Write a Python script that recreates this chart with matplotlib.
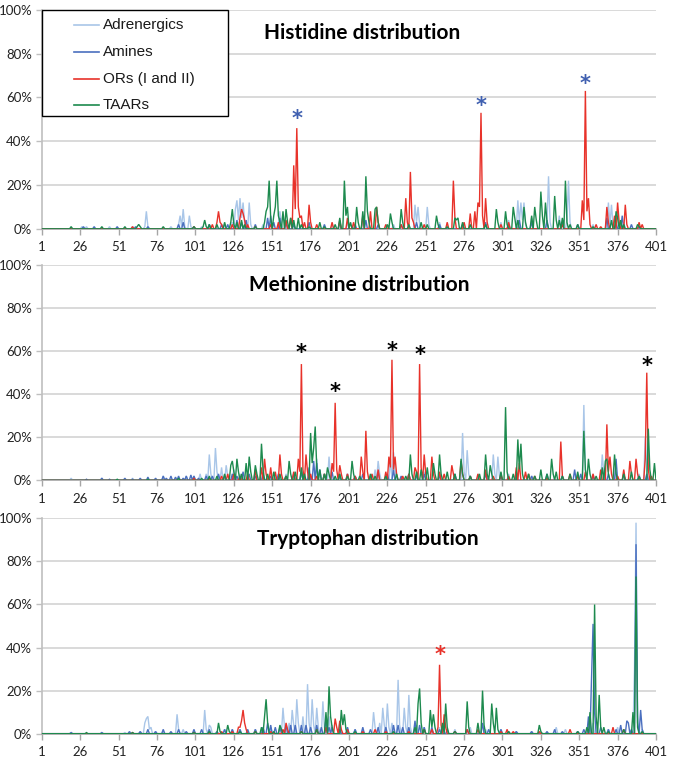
import numpy as np
import matplotlib
matplotlib.use("Agg")
import matplotlib.pyplot as plt
from matplotlib.ticker import FuncFormatter
from matplotlib.patches import Rectangle
from matplotlib.lines import Line2D

N_POS = 401
series_names = ["Adrenergics", "Amines", "ORs (I and II)", "TAARs"]
series_colors = ["#a9c6e8", "#4a6fbf", "#e8322a", "#1d8a4e"]
x_ticks = list(range(1, 402, 25))
y_ticks = [0, 20, 40, 60, 80, 100]
titles = ["Histidine distribution", "Methionine distribution", "Tryptophan distribution"]

# sparse (position, percent) readings; unlisted positions are ~0
HIS_ADR = [(27,1),(30,1),(45,1),(60,1),(68,1),(69,8),(70,1),(85,1),(90,2),(91,6),(92,1),(93,9),(94,1),(97,6),(98,1),(105,1),(110,2),(120,2),(125,3),(127,9),(128,13),(129,4),(130,14),(131,5),(132,12),(133,3),(136,12),(137,2),(145,2),(150,3),(156,8),(157,2),(165,2),(190,2),(200,3),(210,3),(230,2),(244,11),(245,3),(246,10),(247,2),(252,10),(253,2),(260,3),(300,3),(305,4),(311,13),(312,3),(313,12),(314,4),(315,12),(316,2),(320,5),(330,3),(331,24),(332,3),(338,6),(343,4),(344,22),(345,3),(360,2),(370,12),(371,2),(372,11),(373,2),(380,3)]
HIS_AMI = [(28,1),(35,1),(50,1),(62,1),(70,1),(90,2),(93,3),(100,1),(110,2),(118,2),(122,2),(128,4),(131,3),(134,4),(140,2),(148,5),(150,6),(152,3),(156,5),(160,3),(165,2),(175,3),(185,2),(195,3),(205,2),(212,4),(220,2),(235,2),(245,3),(260,2),(275,2),(290,3),(305,2),(312,4),(320,3),(330,4),(340,3),(350,2),(369,5),(375,3),(379,6),(385,2),(390,1)]
HIS_OR = [(60,1),(100,1),(112,2),(115,3),(116,8),(117,3),(118,2),(125,2),(130,5),(131,9),(132,7),(133,4),(135,2),(140,1),(150,2),(155,3),(160,4),(163,5),(165,29),(166,9),(167,46),(168,10),(169,5),(170,6),(172,3),(175,11),(176,3),(180,2),(190,3),(195,4),(200,5),(204,3),(210,6),(215,8),(219,10),(220,3),(225,2),(235,2),(238,14),(239,3),(241,26),(242,5),(243,3),(250,2),(265,3),(269,22),(270,5),(276,3),(280,7),(283,8),(285,12),(286,10),(287,53),(288,6),(290,14),(291,3),(300,2),(305,3),(340,2),(353,13),(354,4),(355,63),(356,8),(357,14),(358,2),(362,2),(365,1),(369,10),(370,3),(374,6),(376,12),(377,3),(381,11),(382,2),(390,3),(392,2)]
HIS_TAAR = [(20,1),(40,1),(55,1),(63,1),(64,2),(65,1),(80,1),(100,1),(106,1),(107,4),(108,1),(110,2),(115,2),(120,3),(124,3),(125,9),(126,2),(128,3),(131,4),(133,2),(140,1),(146,3),(147,8),(148,10),(149,22),(150,5),(152,6),(153,10),(154,22),(155,6),(156,3),(158,8),(160,9),(161,3),(163,5),(165,4),(168,5),(170,2),(175,1),(182,3),(185,1),(192,2),(195,5),(198,22),(199,6),(200,10),(202,3),(206,10),(207,3),(210,8),(212,24),(213,8),(214,3),(218,9),(219,10),(220,3),(226,2),(228,7),(229,3),(235,9),(236,3),(240,2),(248,3),(252,2),(258,6),(259,2),(265,1),(270,5),(271,4),(272,5),(275,3),(280,2),(290,2),(297,9),(298,3),(303,8),(304,2),(308,10),(309,5),(311,4),(315,10),(316,3),(320,6),(322,10),(323,4),(326,17),(327,6),(329,12),(330,3),(335,15),(336,4),(338,4),(340,5),(342,22),(343,3),(345,2),(350,2),(360,1),(372,4),(375,8),(376,5),(378,4),(380,2),(389,2),(390,1)]

MET_ADR = [(20,1),(40,1),(60,1),(80,2),(95,2),(100,2),(104,3),(108,3),(110,12),(111,3),(114,15),(115,4),(118,6),(121,7),(122,2),(126,5),(130,3),(140,4),(145,3),(160,3),(170,4),(180,10),(188,11),(189,2),(195,3),(205,2),(218,5),(220,9),(221,3),(228,10),(230,13),(231,5),(240,3),(250,4),(260,3),(270,2),(275,22),(276,4),(278,14),(279,3),(285,2),(295,12),(296,3),(298,11),(299,2),(305,3),(320,2),(340,2),(350,3),(354,35),(355,5),(360,3),(366,12),(367,3),(375,4),(390,3),(394,20),(395,4)]
MET_AMI = [(30,0.5),(40,1),(45,0.5),(55,1),(60,0.5),(65,1),(70,1.5),(75,1),(80,2),(82,1),(85,2),(88,1.5),(90,2),(93,1),(95,2),(98,2.5),(100,2),(103,1),(108,2),(112,2),(116,3),(120,2),(125,3),(128,2),(132,4),(136,3),(140,2),(145,3),(150,2),(155,3),(160,2),(165,3),(170,4),(175,6),(178,9),(180,8),(182,5),(185,3),(190,4),(195,2),(200,3),(205,2),(210,3),(215,2),(220,4),(226,3),(230,5),(235,2),(240,3),(245,2),(250,3),(260,2),(270,3),(280,2),(290,3),(300,2),(310,3),(320,2),(330,3),(340,2),(348,5),(352,3),(360,2),(370,3),(375,10),(380,3),(390,2),(395,3)]
MET_OR = [(100,1),(110,1),(118,2),(122,3),(126,3),(130,2),(135,3),(140,5),(144,6),(146,10),(147,3),(150,6),(153,4),(156,12),(157,3),(160,2),(165,4),(168,10),(169,4),(170,54),(171,5),(173,12),(174,4),(176,3),(180,2),(185,3),(190,8),(191,4),(192,36),(193,5),(195,7),(196,3),(200,3),(205,2),(209,11),(210,4),(212,23),(213,4),(216,3),(220,5),(225,4),(227,11),(228,6),(229,56),(230,5),(231,11),(232,3),(236,2),(240,3),(244,6),(245,4),(247,54),(248,6),(250,12),(251,3),(255,11),(256,3),(260,4),(263,3),(268,7),(269,3),(274,9),(275,3),(280,2),(285,3),(290,5),(295,2),(300,3),(305,2),(310,6),(312,8),(316,4),(318,3),(322,2),(330,1),(339,18),(340,2),(345,3),(350,2),(355,4),(360,3),(365,5),(369,26),(370,4),(371,11),(372,3),(376,2),(380,5),(384,9),(385,3),(388,10),(389,3),(394,10),(395,50),(396,5),(398,2)]
MET_TAAR = [(50,0.5),(70,0.5),(90,1),(105,1),(110,2),(115,2),(120,3),(124,7),(125,9),(126,4),(128,10),(129,4),(131,3),(134,8),(136,11),(137,4),(140,7),(141,3),(144,17),(145,5),(148,3),(152,4),(156,3),(160,2),(162,9),(163,3),(166,4),(170,6),(172,3),(176,22),(177,8),(178,15),(179,25),(180,6),(182,5),(185,3),(187,6),(188,3),(192,2),(195,3),(200,2),(203,9),(204,3),(208,2),(215,3),(218,2),(225,2),(232,3),(238,2),(241,12),(242,3),(245,4),(248,5),(252,6),(256,8),(257,3),(260,12),(261,3),(265,4),(270,3),(274,10),(275,3),(280,2),(286,3),(290,12),(291,3),(293,7),(294,3),(300,4),(303,34),(304,4),(308,3),(311,19),(312,5),(313,17),(314,3),(318,3),(322,2),(326,5),(330,3),(333,10),(334,3),(336,4),(340,2),(345,3),(350,4),(354,23),(355,5),(357,10),(358,3),(362,2),(366,6),(368,9),(369,10),(370,3),(374,12),(375,3),(380,3),(385,4),(390,2),(396,24),(397,5),(400,8)]

TRP_ADR = [(20,0.5),(40,0.5),(55,0.5),(65,1),(68,5),(69,7),(70,8),(71,2),(72,3),(75,1),(80,1),(89,9),(90,2),(93,2),(100,1),(107,11),(108,2),(110,4),(111,3),(120,2),(125,2),(130,2),(140,2),(145,3),(150,3),(158,12),(159,3),(162,5),(164,11),(165,4),(167,16),(168,5),(171,8),(174,23),(175,5),(177,16),(178,4),(180,12),(181,3),(184,15),(185,3),(188,8),(190,4),(195,5),(200,3),(205,2),(210,2),(217,10),(218,3),(221,5),(223,12),(224,4),(226,14),(227,3),(229,5),(233,25),(234,4),(237,12),(238,3),(240,18),(241,3),(245,4),(250,3),(255,2),(260,3),(270,2),(280,3),(290,2),(300,2),(310,1),(320,1),(336,3),(342,2),(350,1),(360,5),(370,2),(376,3),(380,2),(387,30),(388,98),(389,8),(392,2)]
TRP_AMI = [(20,0.5),(40,0.5),(58,1),(65,1),(70,2),(75,1),(80,2),(85,1),(90,2),(95,1),(100,2),(105,2),(110,2),(115,1),(120,2),(125,2),(130,2),(135,2),(140,2),(145,3),(148,5),(150,4),(153,3),(156,3),(160,4),(163,4),(166,4),(170,4),(173,4),(176,3),(180,4),(183,3),(186,7),(188,3),(190,3),(195,2),(200,3),(205,2),(210,3),(215,2),(220,3),(225,3),(230,4),(233,4),(236,3),(240,3),(244,6),(247,4),(250,3),(255,3),(260,2),(265,2),(270,1),(278,2),(288,5),(292,2),(300,2),(305,1),(310,1),(320,1),(330,1),(335,2),(340,1),(350,1),(354,2),(357,8),(359,25),(360,51),(361,10),(365,3),(370,2),(375,2),(378,4),(382,6),(383,5),(385,2),(388,88),(389,5),(391,11),(392,2)]
TRP_OR = [(60,0.5),(100,0.5),(118,1),(125,1),(129,3),(130,3),(131,6),(132,11),(133,5),(134,2),(140,1),(150,1),(158,2),(160,5),(161,2),(170,1),(180,2),(186,3),(192,7),(193,3),(195,6),(196,2),(200,2),(210,1),(218,2),(225,1),(240,1),(250,2),(255,2),(259,3),(260,32),(261,4),(263,9),(264,3),(270,1),(278,2),(285,2),(300,1),(304,2),(308,1),(325,1),(345,2),(373,3),(380,2)]
TRP_TAAR = [(30,0.5),(60,0.5),(100,0.5),(110,1),(116,5),(117,1),(122,4),(123,1),(130,1),(140,1),(144,3),(146,8),(147,16),(148,5),(152,1),(156,4),(157,2),(170,1),(180,2),(186,10),(188,22),(189,8),(190,3),(196,11),(197,4),(198,9),(199,2),(205,1),(230,1),(244,3),(246,14),(247,21),(248,5),(250,2),(254,11),(255,3),(256,9),(257,3),(262,5),(264,14),(265,3),(270,1),(278,15),(279,3),(285,5),(288,20),(289,4),(294,14),(295,5),(297,12),(298,2),(305,1),(325,4),(326,1),(350,1),(356,3),(358,10),(361,60),(362,8),(364,18),(365,3),(367,3),(370,1),(380,2),(386,10),(388,73),(389,3),(392,1)]

panels = [
    [HIS_ADR, HIS_AMI, HIS_OR, HIS_TAAR],
    [MET_ADR, MET_AMI, MET_OR, MET_TAAR],
    [TRP_ADR, TRP_AMI, TRP_OR, TRP_TAAR],
]

# asterisk marks: (position, percent, color)
STAR_HIS = [(167, 50, "#4060b0"), (287, 56, "#4060b0"), (355, 66, "#4060b0")]
STAR_MET = [(170, 59, "black"), (192, 41, "black"), (229, 60, "black"), (247, 58, "black"), (395, 53, "black")]
STAR_TRP = [(260, 36.5, "#e8322a")]
stars = [STAR_HIS, STAR_MET, STAR_TRP]

title_pos = [(209.8, 89.5), (207.9, 90.5), (213.1, 90.5)]

axes_boxes = [
    (0.0621, 0.7005, 0.9083, 0.2865),
    (0.0621, 0.3713, 0.9083, 0.2818),
    (0.0621, 0.0397, 0.9083, 0.2818),
]

fig = plt.figure(figsize=(6.76, 7.64), dpi=100)
x = np.arange(1, N_POS + 1)

def to_array(pairs):
    arr = np.zeros(N_POS)
    for p, v in pairs:
        arr[p - 1] = v
    return arr

for i in range(3):
    ax = fig.add_axes(axes_boxes[i])
    for j in range(4):
        ax.plot(x, to_array(panels[i][j]), color=series_colors[j], lw=1.0,
                label=series_names[j], zorder=3 + j, solid_joinstyle="miter")
    ax.set_xlim(1, 401)
    ax.set_ylim(0, 100)
    ax.set_xticks(x_ticks)
    ax.set_yticks(y_ticks)
    ax.yaxis.set_major_formatter(FuncFormatter(lambda v, _: f"{int(v)}%"))
    ax.grid(axis="y", color="#d9d9d9", lw=1.4, zorder=0)
    ax.set_axisbelow(True)
    for s in ["top", "right"]:
        ax.spines[s].set_visible(False)
    ax.spines["left"].set_color("#bfbfbf")
    ax.spines["left"].set_linewidth(1.2)
    ax.spines["bottom"].set_color("#a6a6a6")
    ax.spines["bottom"].set_linewidth(1.2)
    ax.tick_params(axis="x", direction="out", length=4, width=1, color="#a6a6a6",
                   labelsize=9.5, pad=5)
    ax.tick_params(axis="y", direction="out", length=4, width=1, color="#bfbfbf",
                   labelsize=9.5, pad=3)
    for lab in ax.get_xticklabels() + ax.get_yticklabels():
        lab.set_family("Lato")
        lab.set_color("#222222")
    ax.text(title_pos[i][0], title_pos[i][1], titles[i], ha="center", va="center",
            fontsize=15, fontweight="bold", family="Lato", zorder=10)
    for p, v, c in stars[i]:
        ax.text(p, v, "*", ha="center", va="center", fontsize=15, fontweight="bold",
                color=c, zorder=10, family="DejaVu Sans")
    if i == 0:
        # legend box drawn in axes-fraction coordinates (Excel-style layout)
        ax_w_px = axes_boxes[0][2] * 676
        ax_h_px = axes_boxes[0][3] * 764
        box_w = 186.5 / ax_w_px
        box_h = 106.5 / ax_h_px
        ax.add_patch(Rectangle((0, 1 - box_h), box_w, box_h, transform=ax.transAxes,
                               facecolor="white", edgecolor="black", lw=1.0,
                               zorder=20, clip_on=False))
        ys_px = [15.5, 42.2, 69.5, 95.5]
        for j in range(4):
            yy = 1 - ys_px[j] / ax_h_px
            ax.add_line(Line2D([32 / ax_w_px, 57.5 / ax_w_px], [yy, yy],
                               transform=ax.transAxes, color=series_colors[j],
                               lw=1.2, zorder=21, clip_on=False))
            ax.text(61 / ax_w_px, yy, series_names[j], transform=ax.transAxes,
                    ha="left", va="center", fontsize=11, family="Liberation Sans",
                    color="#1a1a1a", zorder=22)

fig.savefig("out.png", dpi=100, facecolor="white")
